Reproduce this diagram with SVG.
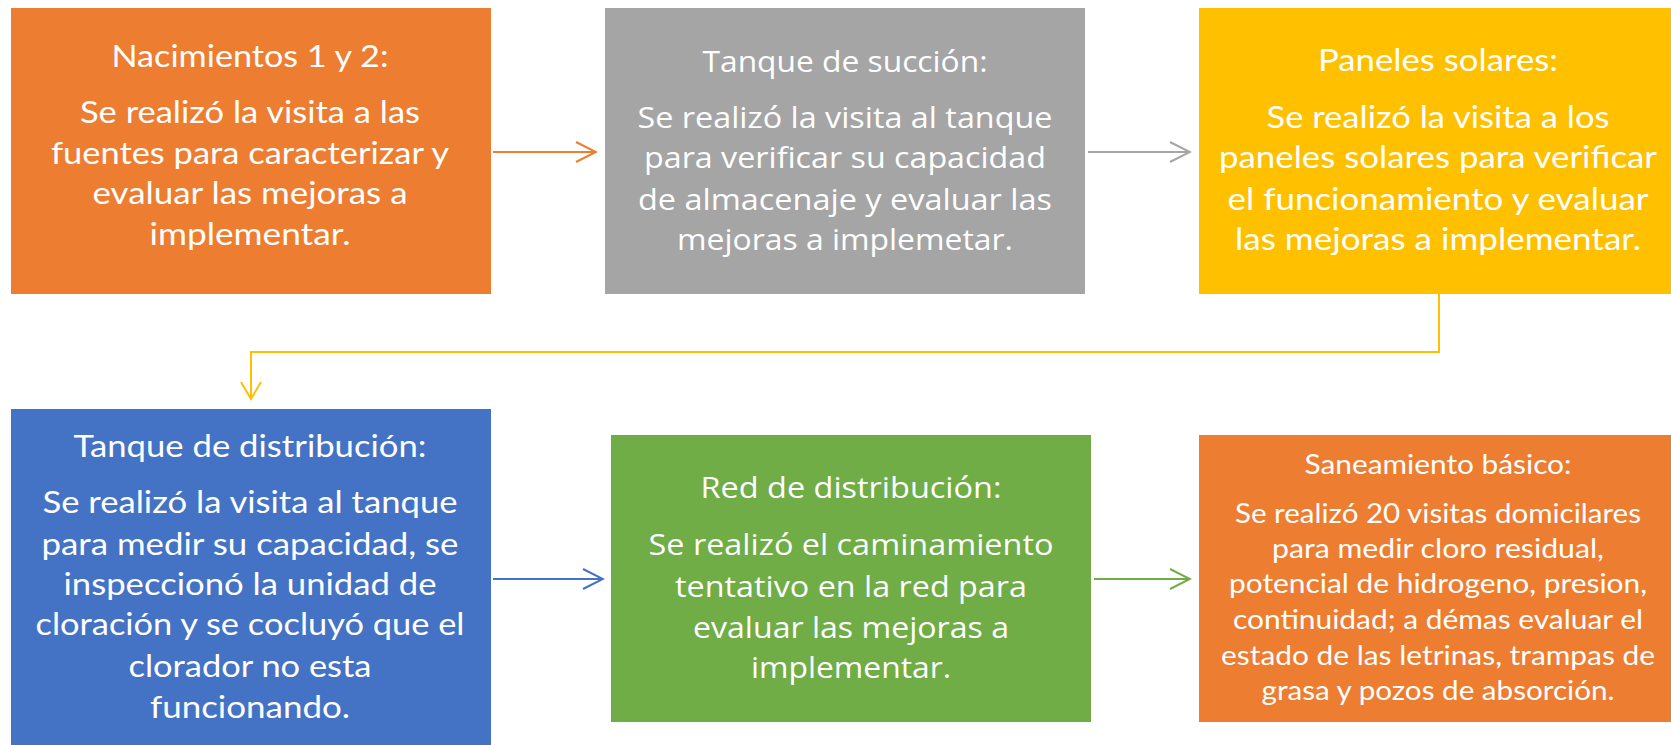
<svg xmlns="http://www.w3.org/2000/svg" width="1671" height="745" viewBox="0 0 1671 745">
<style>
.c{font-family:Lato,"Open Sans","Liberation Sans",sans-serif;fill:#fff;text-anchor:middle}
.s{font-family:"Open Sans","Noto Sans","Liberation Sans",sans-serif;fill:#fff;text-anchor:middle}
.cb{font-size:31px}
.cs{font-size:27px}
.sb{font-size:29px}
.ln{fill:none;stroke-width:2}
</style>
<defs>
<marker id="mo" markerUnits="userSpaceOnUse" viewBox="-22 -12 24 24" refX="0" refY="0" markerWidth="24" markerHeight="24" orient="auto"><path d="M-20,-10 L0,0 L-20,10" fill="none" stroke="#ED7D31" stroke-width="2"/></marker>
<marker id="mg" markerUnits="userSpaceOnUse" viewBox="-22 -12 24 24" refX="0" refY="0" markerWidth="24" markerHeight="24" orient="auto"><path d="M-20,-10 L0,0 L-20,10" fill="none" stroke="#A5A5A5" stroke-width="2"/></marker>
<marker id="my" markerUnits="userSpaceOnUse" viewBox="-22 -12 24 24" refX="0" refY="0" markerWidth="24" markerHeight="24" orient="auto"><path d="M-17,-10 L0,0 L-17,10" fill="none" stroke="#FFC000" stroke-width="2"/></marker>
<marker id="mb" markerUnits="userSpaceOnUse" viewBox="-22 -12 24 24" refX="0" refY="0" markerWidth="24" markerHeight="24" orient="auto"><path d="M-20,-10 L0,0 L-20,10" fill="none" stroke="#4472C4" stroke-width="2"/></marker>
<marker id="mv" markerUnits="userSpaceOnUse" viewBox="-22 -12 24 24" refX="0" refY="0" markerWidth="24" markerHeight="24" orient="auto"><path d="M-20,-10 L0,0 L-20,10" fill="none" stroke="#70AD47" stroke-width="2"/></marker>
</defs>
<rect width="1671" height="745" fill="#fff"/>
<g id="connectors">
<path class="ln" d="M493,152 H596" stroke="#ED7D31" marker-end="url(#mo)"/>
<path class="ln" d="M1088,152 H1190" stroke="#A5A5A5" marker-end="url(#mg)"/>
<path class="ln" d="M1439,294 V352 H251 V399" stroke="#FFC000" marker-end="url(#my)"/>
<path class="ln" d="M493,579 H603" stroke="#4472C4" marker-end="url(#mb)"/>
<path class="ln" d="M1094,579 H1190" stroke="#70AD47" marker-end="url(#mv)"/>
</g>
<g id="n1">
<rect x="11" y="8" width="480" height="286" fill="#ED7D31"/>
<text class="c cb" x="250" y="67" textLength="277" lengthAdjust="spacingAndGlyphs">Nacimientos 1 y 2:</text>
<text class="c cb" x="250" y="123" textLength="340" lengthAdjust="spacingAndGlyphs">Se realizó la visita a las</text>
<text class="c cb" x="250" y="164" textLength="398" lengthAdjust="spacingAndGlyphs">fuentes para caracterizar y</text>
<text class="c cb" x="250" y="204" textLength="315" lengthAdjust="spacingAndGlyphs">evaluar las mejoras a</text>
<text class="c cb" x="250" y="245" textLength="201" lengthAdjust="spacingAndGlyphs">implementar.</text>
</g>
<g id="n2">
<rect x="605" y="8" width="480" height="286" fill="#A5A5A5"/>
<text class="s sb" x="845" y="72" textLength="285" lengthAdjust="spacingAndGlyphs">Tanque de succión:</text>
<text class="s sb" x="845" y="128" textLength="415" lengthAdjust="spacingAndGlyphs">Se realizó la visita al tanque</text>
<text class="s sb" x="845" y="168" textLength="402" lengthAdjust="spacingAndGlyphs">para verificar su capacidad</text>
<text class="s sb" x="845" y="210" textLength="414" lengthAdjust="spacingAndGlyphs">de almacenaje y evaluar las</text>
<text class="s sb" x="845" y="250" textLength="336" lengthAdjust="spacingAndGlyphs">mejoras a implemetar.</text>
</g>
<g id="n3">
<rect x="1199" y="8" width="480" height="286" fill="#FFC000"/>
<text class="c cb" x="1438" y="71" textLength="240" lengthAdjust="spacingAndGlyphs">Paneles solares:</text>
<text class="c cb" x="1438" y="128" textLength="343" lengthAdjust="spacingAndGlyphs">Se realizó la visita a los</text>
<text class="c cb" x="1438" y="168" textLength="438" lengthAdjust="spacingAndGlyphs">paneles solares para verificar</text>
<text class="c cb" x="1438" y="210" textLength="421" lengthAdjust="spacingAndGlyphs">el funcionamiento y evaluar</text>
<text class="c cb" x="1438" y="250" textLength="406" lengthAdjust="spacingAndGlyphs">las mejoras a implementar.</text>
</g>
<g id="n4">
<rect x="11" y="409" width="480" height="340" fill="#4472C4"/>
<text class="c cb" x="250" y="457" textLength="353" lengthAdjust="spacingAndGlyphs">Tanque de distribución:</text>
<text class="c cb" x="250" y="513" textLength="415" lengthAdjust="spacingAndGlyphs">Se realizó la visita al tanque</text>
<text class="c cb" x="250" y="555" textLength="417" lengthAdjust="spacingAndGlyphs">para medir su capacidad, se</text>
<text class="c cb" x="250" y="595" textLength="373" lengthAdjust="spacingAndGlyphs">inspeccionó la unidad de</text>
<text class="c cb" x="250" y="635" textLength="429" lengthAdjust="spacingAndGlyphs">cloración y se cocluyó que el</text>
<text class="c cb" x="250" y="677" textLength="243" lengthAdjust="spacingAndGlyphs">clorador no esta</text>
<text class="c cb" x="250" y="718" textLength="200" lengthAdjust="spacingAndGlyphs">funcionando.</text>
</g>
<g id="n5">
<rect x="611" y="435" width="480" height="287" fill="#70AD47"/>
<text class="s sb" x="851" y="498" textLength="301" lengthAdjust="spacingAndGlyphs">Red de distribución:</text>
<text class="s sb" x="851" y="555" textLength="405" lengthAdjust="spacingAndGlyphs">Se realizó el caminamiento</text>
<text class="s sb" x="851" y="597" textLength="352" lengthAdjust="spacingAndGlyphs">tentativo en la red para</text>
<text class="s sb" x="851" y="638" textLength="316" lengthAdjust="spacingAndGlyphs">evaluar las mejoras a</text>
<text class="s sb" x="851" y="678" textLength="200" lengthAdjust="spacingAndGlyphs">implementar.</text>
</g>
<g id="n6">
<rect x="1199" y="435" width="480" height="287" fill="#ED7D31"/>
<text class="c cs" x="1438" y="474" textLength="267" lengthAdjust="spacingAndGlyphs">Saneamiento básico:</text>
<text class="c cs" x="1438" y="523" textLength="406" lengthAdjust="spacingAndGlyphs">Se realizó 20 visitas domicilares</text>
<text class="c cs" x="1438" y="558" textLength="332" lengthAdjust="spacingAndGlyphs">para medir cloro residual,</text>
<text class="c cs" x="1438" y="593" textLength="418" lengthAdjust="spacingAndGlyphs">potencial de hidrogeno, presion,</text>
<text class="c cs" x="1438" y="629" textLength="410" lengthAdjust="spacingAndGlyphs">continuidad; a démas evaluar el</text>
<text class="c cs" x="1438" y="665" textLength="434" lengthAdjust="spacingAndGlyphs">estado de las letrinas, trampas de</text>
<text class="c cs" x="1438" y="700" textLength="353" lengthAdjust="spacingAndGlyphs">grasa y pozos de absorción.</text>
</g>
</svg>
